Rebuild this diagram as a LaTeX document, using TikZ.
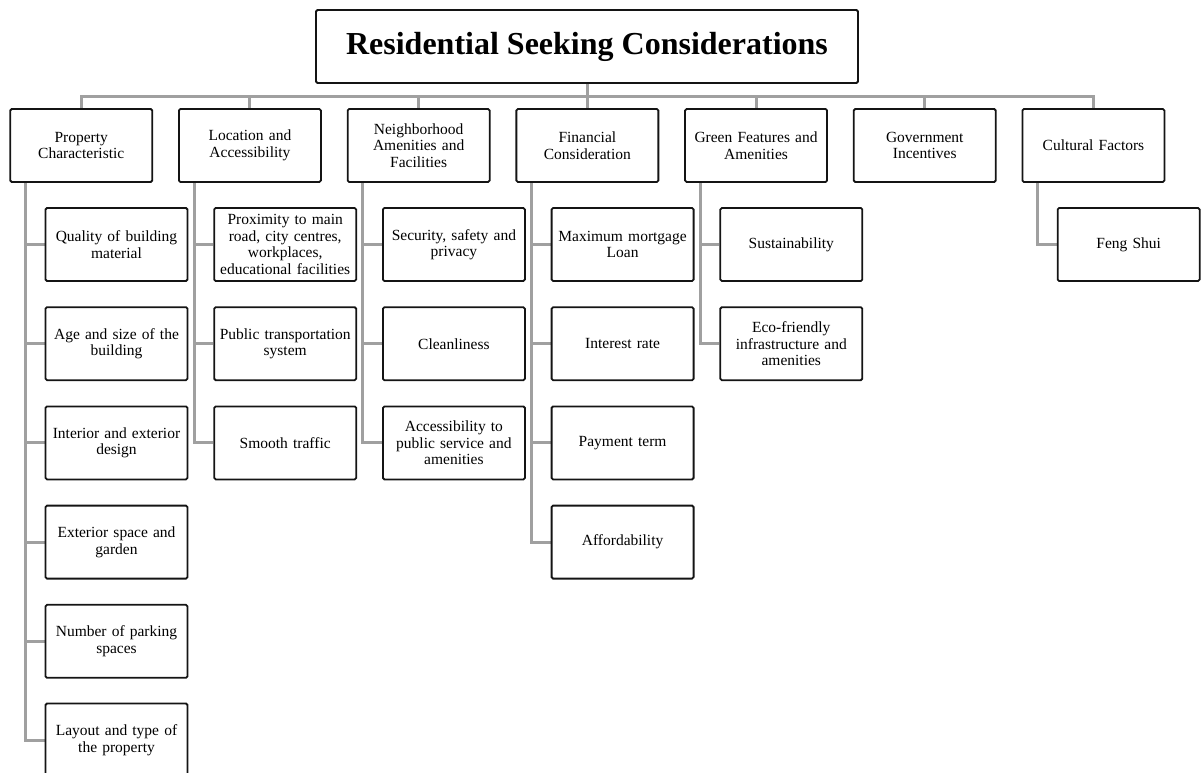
\documentclass[tikz,border=0pt]{standalone}
\usepackage{fontspec}
\setmainfont{Liberation Serif}
\usetikzlibrary{calc,backgrounds}
\definecolor{conn}{RGB}{160,160,160}
\definecolor{edge}{RGB}{20,20,20}
\begin{document}
\begin{tikzpicture}[x=1pt,y=-1pt,
  box/.style={draw=edge, fill=white, line width=1.8pt, rounded corners=1.5pt,
    minimum width=142pt, minimum height=73pt, align=center, inner sep=2pt,
    text width=138pt, font=\fontsize{15.5}{16.5}\selectfont},
  titlebox/.style={draw=edge, fill=white, line width=1.8pt, rounded corners=1.5pt,
    minimum width=542pt, minimum height=73pt, align=center,
    font=\fontsize{32}{36}\selectfont\bfseries},
  link/.style={draw=conn, line width=3pt}]
\clip (0,0) rectangle (1203,772);

% title
\node[titlebox] (title) at (587,46.5) {Residential Seeking Considerations};
\coordinate (bus) at (587,96);

% level-1 boxes
\node[box] (p1) at (81.25,145.5) {Property\\Characteristic};
\node[box] (p2) at (249.95,145.5) {Location and\\Accessibility};
\node[box] (p3) at (418.65,145.5) {Neighborhood\\Amenities and\\Facilities};
\node[box] (p4) at (587.35,145.5) {Financial\\Consideration};
\node[box] (p5) at (756.05,145.5) {Green Features and\\Amenities};
\node[box] (p6) at (924.75,145.5) {Government\\Incentives};
\node[box] (p7) at (1093.45,145.5) {Cultural Factors};

% column 1
\node[box] (c11) at (116.5,244.5) {Quality of building\\material};
\node[box] (c12) at (116.5,343.7) {Age and size of the\\building};
\node[box] (c13) at (116.5,442.9) {Interior and exterior\\design};
\node[box] (c14) at (116.5,542.1) {Exterior space and\\garden};
\node[box] (c15) at (116.5,641.3) {Number of parking\\spaces};
\node[box] (c16) at (116.5,740.0) {Layout and type of\\the property};

% column 2
\node[box] (c21) at (285.2,244.5) {Proximity to main\\road, city centres,\\workplaces,\\educational facilities};
\node[box] (c22) at (285.2,343.7) {Public transportation\\system};
\node[box] (c23) at (285.2,442.9) {Smooth traffic};

% column 3
\node[box] (c31) at (453.9,244.5) {Security, safety and\\privacy};
\node[box] (c32) at (453.9,343.7) {Cleanliness};
\node[box] (c33) at (453.9,442.9) {Accessibility to\\public service and\\amenities};

% column 4
\node[box] (c41) at (622.6,244.5) {Maximum mortgage\\Loan};
\node[box] (c42) at (622.6,343.7) {Interest rate};
\node[box] (c43) at (622.6,442.9) {Payment term};
\node[box] (c44) at (622.6,542.1) {Affordability};

% column 5
\node[box] (c51) at (791.3,244.5) {Sustainability};
\node[box] (c52) at (791.3,343.7) {Eco-friendly\\infrastructure and\\amenities};

% column 7
\node[box] (c71) at (1128.7,244.5) {Feng Shui};

\begin{scope}[on background layer]
  \fill[white] (0,0) rectangle (1203,772);
  \draw[link] (title.south) -- (bus);
  \draw[link] (p1.north) |- (bus) -| (p7.north);
  \foreach \p in {p2,p3,p4,p5,p6} \draw[link] (\p.north) -- (\p.north |- bus);

  \foreach \c in {c11,c12,c13,c14,c15,c16}
    \draw[link] ($(p1.south)+(-55.75,0)$) |- (\c.west);
  \foreach \c in {c21,c22,c23}
    \draw[link] ($(p2.south)+(-55.75,0)$) |- (\c.west);
  \foreach \c in {c31,c32,c33}
    \draw[link] ($(p3.south)+(-55.75,0)$) |- (\c.west);
  \foreach \c in {c41,c42,c43,c44}
    \draw[link] ($(p4.south)+(-55.75,0)$) |- (\c.west);
  \foreach \c in {c51,c52}
    \draw[link] ($(p5.south)+(-55.75,0)$) |- (\c.west);
  \draw[link] ($(p7.south)+(-55.75,0)$) |- (c71.west);
\end{scope}
\end{tikzpicture}
\end{document}
